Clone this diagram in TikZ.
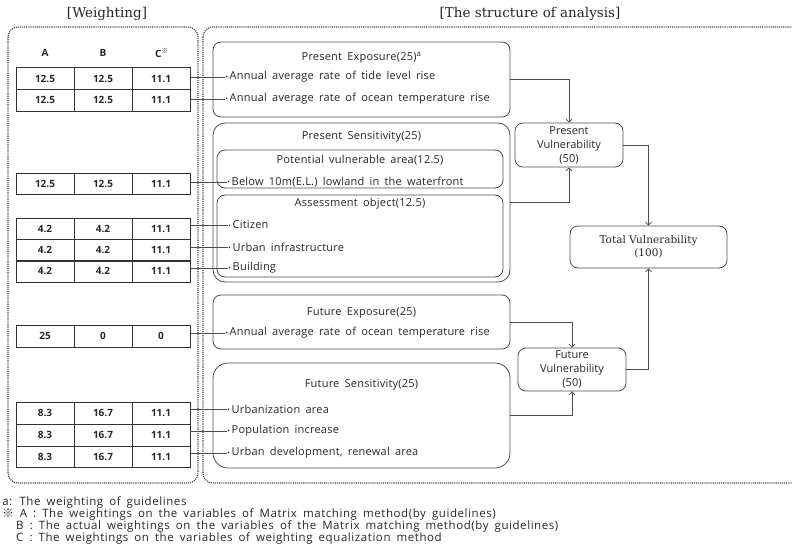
\documentclass[tikz,border=0pt]{standalone}
\usepackage{fontspec}
\setmainfont[WordSpace=1.7]{Open Sans}
\newfontfamily\serifttl{DejaVu Serif}
\newfontfamily\cjk{Noto Sans CJK KR}
\usetikzlibrary{arrows.meta,calc}
\newcommand\bt{{\fontsize{7}{7}\selectfont\raisebox{0.6pt}{•}}\,}
\tikzset{
  >={Straight Barb[length=3pt,width=6pt]},
  frm/.style={draw=black!75,densely dotted,line width=1.1pt,rounded corners=10pt},
  bx/.style={draw=black!70,rounded corners=8pt,inner sep=0pt,line width=0.8pt},
  cell/.style={draw=black!80,minimum width=58pt,minimum height=21.5pt,inner sep=0pt,font=\fontsize{10}{10}\selectfont\bfseries},
  it/.style={anchor=west,inner sep=0pt,font=\fontsize{11}{12}\selectfont\addfontfeature{LetterSpace=2}},
  ttl/.style={inner sep=0pt,font=\fontsize{11}{12}\selectfont\addfontfeature{LetterSpace=2}},
  vb/.style={bx,align=center,font=\fontsize{11}{14}\selectfont},
  lk/.style={draw=black!70,line width=0.7pt},
  fn/.style={anchor=west,inner sep=0pt,font=\fontsize{11.5}{12}\selectfont\addfontfeature{LetterSpace=5}},
  every picture/.style={line width=0.5pt},
}

\begin{document}
\begin{tikzpicture}[x=1pt,y=-1pt,text=black!85]
\useasboundingbox (0,0) rectangle (792,551);
\node[font=\serifttl\fontsize{13.5}{14}\selectfont] (wt) at (107,14) {[Weighting]};
\node[font=\serifttl\fontsize{13.5}{14}\selectfont] (st) at (530,14) {[The structure of analysis]};
\draw[frm] (8,27) rectangle (198,483); \draw[frm] (203,27) rectangle (800,483);
% weights table
\node[font=\fontsize{10}{10}\selectfont\bfseries] (ha) at (45,53) {A}; \node[font=\fontsize{10}{10}\selectfont\bfseries] (hb) at (103,53) {B};
\node[font=\fontsize{10}{10}\selectfont\bfseries] (hc) at (162,53) {C\textsuperscript{\cjk ※}};
\foreach \n/\y/\a/\b/\c in {1/78.5/12.5/12.5/11.1,2/100/12.5/12.5/11.1,3/183.5/12.5/12.5/11.1,4/228.5/4.2/4.2/11.1,5/250/4.2/4.2/11.1,
  6/271/4.2/4.2/11.1,7/336/25/0/0,8/413/8.3/16.7/11.1,9/435/8.3/16.7/11.1,10/456.5/8.3/16.7/11.1}{
  \node[cell] (a\n) at (45,\y) {\a}; \node[cell] (b\n) at (103,\y) {\b}; \node[cell] (c\n) at (161,\y) {\c};
}
% structure boxes
\node[bx,minimum width=297pt,minimum height=75pt] (pe) at (361.5,79.5) {};
\node[bx,rounded corners=12pt,minimum width=297pt,minimum height=159pt] (ps) at (361.5,202.5) {};
\node[bx,minimum width=286pt,minimum height=38pt] (pva) at (360,169) {};
\node[bx,minimum width=286pt,minimum height=82pt] (ao) at (360,236) {};
\node[bx,minimum width=297pt,minimum height=54pt] (fe) at (361.5,322) {};
\node[bx,rounded corners=15pt,minimum width=297pt,minimum height=105pt] (fs) at (361.5,415.5) {};
\node[ttl] (pet) at (361.5,58) {Present Exposure(25)\textsuperscript{a}};
\node[ttl] (pst) at (361.5,137) {Present Sensitivity(25)};
\node[ttl] (pvat) at (360,160) {Potential vulnerable area(12.5)};
\node[ttl] (aot) at (360,204) {Assessment object(12.5)};
\node[ttl] (fet) at (361.5,313) {Future Exposure(25)};
\node[ttl] (fst) at (361.5,385) {Future Sensitivity(25)};
\node[it] (i1) at (225,77) {\bt Annual average rate of tide level rise};
\node[it] (i2) at (225,99) {\bt Annual average rate of ocean temperature rise};
\node[it] (i3) at (227,182) {\bt Below 10m(E.L.) lowland in the waterfront};
\node[it] (i4) at (228,225) {\bt Citizen}; \node[it] (i5) at (228,247) {\bt Urban infrastructure};
\node[it] (i6) at (228,268) {\bt Building};
\node[it] (i7) at (225,333) {\bt Annual average rate of ocean temperature rise};
\node[it] (i8) at (227,409) {\bt Urbanization area}; \node[it] (i9) at (227,431) {\bt Population increase};
\node[it] (i10) at (227,453) {\bt Urban development, renewal area};
\foreach \n in {1,...,10} \draw[lk] (c\n.east |- i\n.west) -- (i\n.west);
% vulnerability
\node[vb,minimum width=108pt,minimum height=44pt] (pv) at (569,145) {Present\\Vulnerability\\(50)};
\node[vb,minimum width=108pt,minimum height=43pt] (fv) at (572,369.5) {Future\\Vulnerability\\(50)};
\node[vb,minimum width=157pt,minimum height=42pt,font=\serifttl\fontsize{10.5}{13}\selectfont] (tv) at (648.5,247) {Total Vulnerability\\(100)};
\draw[lk,->] (pe.east) -| (pv.north); \draw[lk,->] (ps.east) -| (pv.south);
\draw[lk,->] (fe.east) -| (fv.north); \draw[lk,->] (fs.east) -| (fv.south);
\draw[lk,->] (pv.east) -| (tv.north); \draw[lk,->] (fv.east) -| (tv.south);
% notes
\node[fn] (n1) at (2,502) {a: The weighting of guidelines};
\node[fn] (n2) at (2,514) {{\cjk ※} A : The weightings on the variables of Matrix matching method(by guidelines)};
\node[fn] (n3) at (16,526) {B : The actual weightings on the variables of the Matrix matching method(by guidelines)};
\node[fn] (n4) at (16,538) {C : The weightings on the variables of weighting equalization method};
\end{tikzpicture}
\end{document}
